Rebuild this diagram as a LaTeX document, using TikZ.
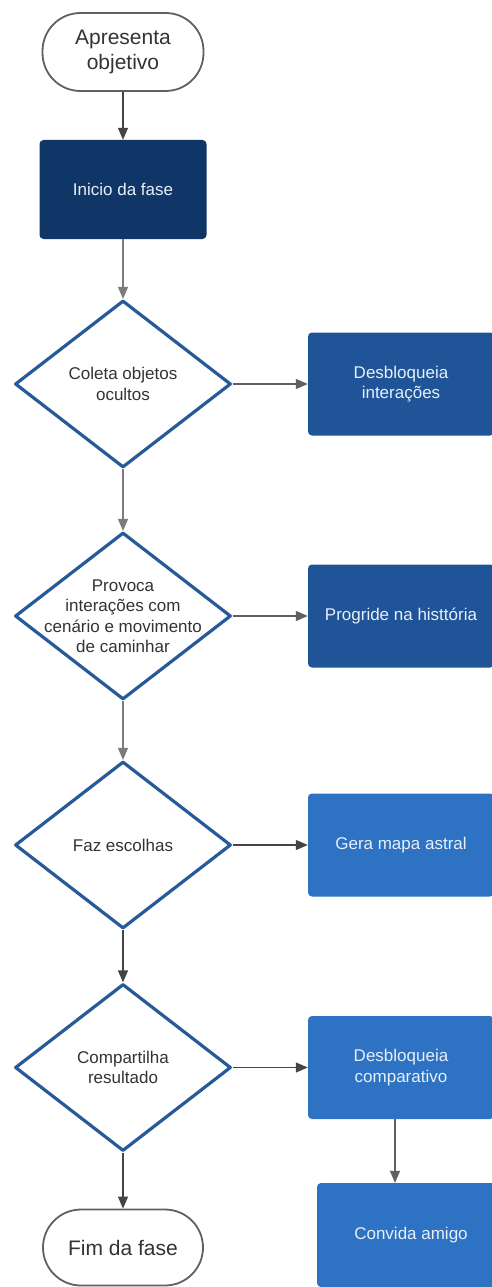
\documentclass[tikz,border=0pt]{standalone}
\usepackage{fontspec}
\setmainfont{Liberation Sans}
\usetikzlibrary{shapes.geometric,arrows.meta}
\definecolor{navy}{HTML}{103668}
\definecolor{midblue}{HTML}{1F5498}
\definecolor{lightblue}{HTML}{2E72C3}
\definecolor{dborder}{HTML}{265A98}
\definecolor{conn}{HTML}{444444}
\definecolor{txt}{HTML}{333333}
\definecolor{boxtxt}{HTML}{E8EFF8}
\begin{document}
\begin{tikzpicture}[x=1pt,y=-1pt,
  term/.style={draw=conn!85, line width=1.8pt, rounded corners=38pt, minimum width=161pt, minimum height=78pt, align=center, font=\fontsize{21}{25}\selectfont, text=txt, inner sep=0pt},
  procbox/.style={rounded corners=4pt, minimum width=186pt, minimum height=103pt, align=center, font=\fontsize{17}{20.5}\selectfont, text=boxtxt, inner sep=0pt},
  dia/.style={diamond, draw=dborder, line width=3.2pt, line join=round, minimum width=216pt, minimum height=167pt, inner sep=0pt, fill=white},
  diatext/.style={align=center, font=\fontsize{17}{20.5}\selectfont, text=txt, inner sep=0pt},
  arr/.style={draw=conn, line width=1.2pt, -{Triangle[length=12pt,width=10pt]}}
]
\useasboundingbox (0,0) rectangle (491,1287);
\fill[white] (0,0) rectangle (491,1287);

% left column
\node[term] (ap) at (123,52) {Apresenta\\objetivo};
\node[procbox, fill=navy, minimum width=167pt, minimum height=99pt] (ini) at (123,189.5) {Inicio da fase};
\node[dia] (d1) at (123,384) {};
\node[diatext] (d1t) at (d1.center) {Coleta objetos\\ocultos};
\node[dia] (d2) at (123,616) {};
\node[diatext] (d2t) at (d2.center) {Provoca\\interações com\\cenário e movimento\\de caminhar};
\node[dia] (d3) at (123,845) {};
\node[diatext] (d3t) at (d3.center) {Faz escolhas};
\node[dia] (d4) at (123,1067.5) {};
\node[diatext] (d4t) at (d4.center) {Compartilha\\resultado};
\node[term, minimum height=76pt, minimum width=160pt] (fim) at (123,1247.5) {Fim da fase};

% right column
\node[procbox, fill=midblue] (r1) at (401,384) {Desbloqueia\\interações};
\node[procbox, fill=midblue] (r2) at (401,616) {Progride na histtória};
\node[procbox, fill=lightblue] (r3) at (401,845) {Gera mapa astral};
\node[procbox, fill=lightblue] (r4) at (401,1067.5) {Desbloqueia\\comparativo};
\node[procbox, fill=lightblue, minimum width=188pt, minimum height=104pt] (r5) at (411,1235) {Convida amigo};

% connectors
\draw[arr] (ap) -- (ini);
\draw[arr, draw=conn!70] (ini) -- (d1);
\draw[arr, draw=conn!70] (d1) -- (d2);
\draw[arr, draw=conn!70] (d2) -- (d3);
\draw[arr] (d3) -- (d4);
\draw[arr] (d4) -- (fim);
\draw[arr, draw=conn!85] (d1) -- (r1);
\draw[arr, draw=conn!85] (d2) -- (r2);
\draw[arr] (d3) -- (r3);
\draw[arr] (d4) -- (r4);
\draw[arr, draw=conn!85] ([xshift=-6pt]r4.south) -- ([xshift=-6pt]r4.south |- r5.north);
\end{tikzpicture}
\end{document}
